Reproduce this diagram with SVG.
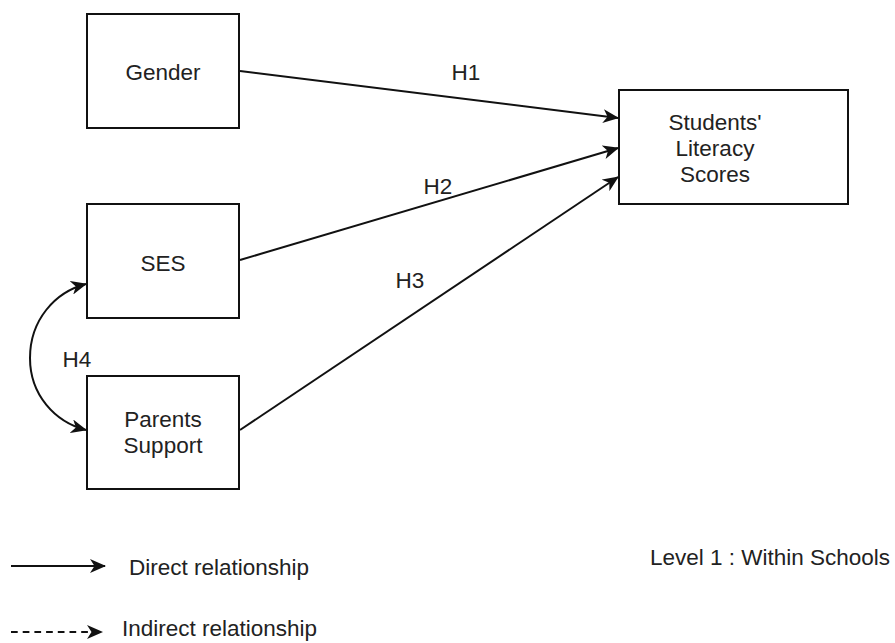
<svg xmlns="http://www.w3.org/2000/svg" width="895" height="643" viewBox="0 0 895 643">
<style>
.box{fill:#fff;stroke:#111;stroke-width:2}
.lbl{font-family:"Liberation Sans",Arial,sans-serif;font-size:22.5px;fill:#222}
.c{text-anchor:middle}
.edge{fill:none;stroke:#111;stroke-width:2}
</style>
<defs>
<marker id="arr" viewBox="0 0 16 14" refX="15" refY="7" markerWidth="16" markerHeight="14" markerUnits="userSpaceOnUse" orient="auto-start-reverse">
<path d="M0,0 L16,7 L0,14 L4.5,7 z" fill="#111"/>
</marker>
</defs>
<rect width="895" height="643" fill="#fff"/>
<g id="gender">
<rect class="box" x="87" y="14" width="152" height="114"/>
<text class="lbl c" x="163" y="80">Gender</text>
</g>
<g id="ses">
<rect class="box" x="87" y="204" width="152" height="114"/>
<text class="lbl c" x="163" y="271">SES</text>
</g>
<g id="parents">
<rect class="box" x="87" y="376" width="152" height="113"/>
<text class="lbl c" x="163" y="427">Parents</text>
<text class="lbl c" x="163" y="453">Support</text>
</g>
<g id="students">
<rect class="box" x="619" y="90" width="229" height="114"/>
<text class="lbl c" x="715" y="130">Students'</text>
<text class="lbl c" x="715" y="156">Literacy</text>
<text class="lbl c" x="715" y="182">Scores</text>
</g>
<g id="connectors">
<path class="edge" d="M240,71 L618,118" marker-end="url(#arr)"/>
<path class="edge" d="M240,260 L618,148" marker-end="url(#arr)"/>
<path class="edge" d="M240,430 L618,177" marker-end="url(#arr)"/>
<path class="edge" d="M86,284 C55,292 30,320 30,358 C30,395 55,422 86,430" marker-start="url(#arr)" marker-end="url(#arr)"/>
</g>
<g id="edge-labels">
<text class="lbl c" x="466" y="80">H1</text>
<text class="lbl c" x="438" y="194">H2</text>
<text class="lbl c" x="410" y="288">H3</text>
<text class="lbl c" x="77" y="367">H4</text>
</g>
<g id="legend">
<path class="edge" d="M11,566 L105,566" marker-end="url(#arr)"/>
<text class="lbl" x="129" y="575">Direct relationship</text>
<path class="edge" d="M11,632 L102,632" stroke-dasharray="6.7,5" marker-end="url(#arr)"/>
<text class="lbl" x="122" y="636">Indirect relationship</text>
<text class="lbl" x="650" y="565">Level 1 : Within Schools</text>
</g>
</svg>
